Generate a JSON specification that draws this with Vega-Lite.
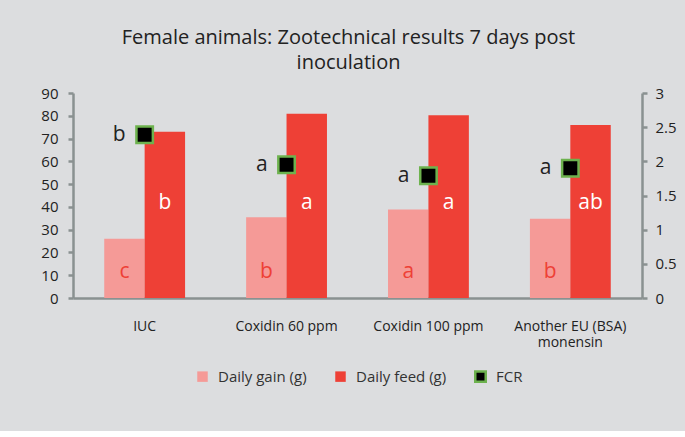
{
  "$schema": "https://vega.github.io/schema/vega-lite/v6.json",
  "width": 569,
  "height": 205,
  "padding": {"left": 40, "top": 28, "right": 16, "bottom": 44},
  "background": "#dcdddf",
  "title": {
    "text": ["Female animals: Zootechnical  results 7 days post", "inoculation"],
    "font": "Open Sans",
    "fontSize": 20,
    "fontWeight": "normal",
    "color": "#222222",
    "lineHeight": 25,
    "offset": 13,
    "dx": -9
  },
  "config": {
    "view": {"stroke": null},
    "font": "Open Sans",
    "axis": {
      "domainColor": "#8a9191",
      "domainWidth": 2.5,
      "tickColor": "#8a9191",
      "tickWidth": 2.5,
      "tickSize": 5,
      "labelFont": "Open Sans",
      "labelFontSize": 15,
      "labelColor": "#222222",
      "grid": false,
      "title": null
    },
    "legend": {
      "labelFont": "Open Sans",
      "labelFontSize": 15,
      "labelColor": "#333333"
    }
  },
  "datasets": {
    "bars": [
      {"group": "IUC", "series": "Daily gain (g)", "value": 26, "letter": "c"},
      {"group": "IUC", "series": "Daily feed (g)", "value": 73, "letter": "b"},
      {"group": "Coxidin 60 ppm", "series": "Daily gain (g)", "value": 35.4, "letter": "b"},
      {"group": "Coxidin 60 ppm", "series": "Daily feed (g)", "value": 80.9, "letter": "a"},
      {"group": "Coxidin 100 ppm", "series": "Daily gain (g)", "value": 38.9, "letter": "a"},
      {"group": "Coxidin 100 ppm", "series": "Daily feed (g)", "value": 80.2, "letter": "a"},
      {"group": "Another EU (BSA) monensin", "series": "Daily gain (g)", "value": 34.8, "letter": "b"},
      {"group": "Another EU (BSA) monensin", "series": "Daily feed (g)", "value": 76, "letter": "ab"}
    ],
    "fcr": [
      {"group": "IUC", "series": "FCR", "fcr": 2.39, "letter": "b"},
      {"group": "Coxidin 60 ppm", "series": "FCR", "fcr": 1.95, "letter": "a"},
      {"group": "Coxidin 100 ppm", "series": "FCR", "fcr": 1.79, "letter": "a"},
      {"group": "Another EU (BSA) monensin", "series": "FCR", "fcr": 1.9, "letter": "a"}
    ]
  },
  "encoding": {
    "x": {
      "field": "group", "type": "nominal",
      "sort": ["IUC", "Coxidin 60 ppm", "Coxidin 100 ppm", "Another EU (BSA) monensin"],
      "scale": {"paddingInner": 0.43, "paddingOuter": 0.22},
      "axis": {
        "labelAngle": 0, "ticks": false, "labelPadding": 21,
        "labelFontSize": 14,
        "labelExpr": "datum.label == 'Another EU (BSA) monensin' ? ['Another EU (BSA)', 'monensin'] : datum.label",
        "labelLineHeight": 16
      }
    }
  },
  "layer": [
    {
      "data": {"name": "bars"},
      "layer": [
        {
          "transform": [{"filter": "datum.series === 'Daily gain (g)'"}],
          "mark": {"type": "bar", "width": {"band": 0.5}, "xOffset": -20.2},
          "encoding": {
            "y": {
              "field": "value", "type": "quantitative",
              "scale": {"domain": [0, 90], "nice": false},
              "axis": {"values": [0,10,20,30,40,50,60,70,80,90], "labelPadding": 10, "orient": "left"}
            },
            "color": {
              "field": "series", "type": "nominal",
              "scale": {"domain": ["Daily gain (g)", "Daily feed (g)", "FCR"], "range": ["#f59a97", "#ee4036", "#000000"]},
              "legend": {
                "orient": "none",
                "legendX": 122,
                "legendY": 276,
                "direction": "horizontal",
                "title": null,
                "symbolType": "square",
                "symbolSize": 110,
                "columnPadding": 23,
                "labelOffset": 8,
                "encode": {
                  "symbols": {
                    "update": {
                      "stroke": {"signal": "datum.label === 'FCR' ? '#6db24e' : 'transparent'"},
                      "strokeWidth": {"value": 2.5}
                    }
                  }
                }
              }
            }
          }
        },
        {
          "transform": [{"filter": "datum.series === 'Daily feed (g)'"}],
          "mark": {"type": "bar", "width": {"band": 0.5}, "xOffset": 20.2},
          "encoding": {
            "y": {
              "field": "value", "type": "quantitative",
              "axis": {"values": [0,10,20,30,40,50,60,70,80,90], "labelPadding": 10, "orient": "left"}
            },
            "color": {"field": "series", "type": "nominal"}
          }
        },
        {
          "transform": [{"filter": "datum.series === 'Daily gain (g)'"}],
          "mark": {"type": "text", "fontSize": 21, "color": "#ee4036", "baseline": "middle", "dx": -20.2},
          "encoding": {
            "y": {"datum": 11.5, "type": "quantitative", "axis": {"values": [0,10,20,30,40,50,60,70,80,90], "labelPadding": 10, "orient": "left"}},
            "text": {"field": "letter"}
          }
        },
        {
          "transform": [{"filter": "datum.series === 'Daily feed (g)'"}],
          "mark": {"type": "text", "fontSize": 21, "color": "#ffffff", "baseline": "middle", "dx": 20.2},
          "encoding": {
            "y": {"datum": 41.5, "type": "quantitative", "axis": {"values": [0,10,20,30,40,50,60,70,80,90], "labelPadding": 10, "orient": "left"}},
            "text": {"field": "letter"}
          }
        }
      ]
    },
    {
      "data": {"name": "fcr"},
      "layer": [
        {
          "mark": {"type": "point", "shape": "square", "filled": true, "size": 270, "stroke": "#6db24e", "strokeWidth": 2.5, "opacity": 1},
          "encoding": {
            "y": {
              "field": "fcr", "type": "quantitative",
              "scale": {"domain": [0, 3], "nice": false},
              "axis": {"orient": "right", "values": [0, 0.5, 1, 1.5, 2, 2.5, 3], "format": "~g", "labelPadding": 8}
            },
            "color": {"field": "series", "type": "nominal"}
          }
        },
        {
          "mark": {"type": "text", "fontSize": 21, "color": "#222222", "align": "right", "baseline": "middle", "dx": -19},
          "encoding": {
            "y": {"field": "fcr", "type": "quantitative", "axis": {"orient": "right", "values": [0, 0.5, 1, 1.5, 2, 2.5, 3], "format": "~g", "labelPadding": 8}},
            "text": {"field": "letter"}
          }
        }
      ]
    }
  ],
  "resolve": {"scale": {"y": "independent"}}
}
